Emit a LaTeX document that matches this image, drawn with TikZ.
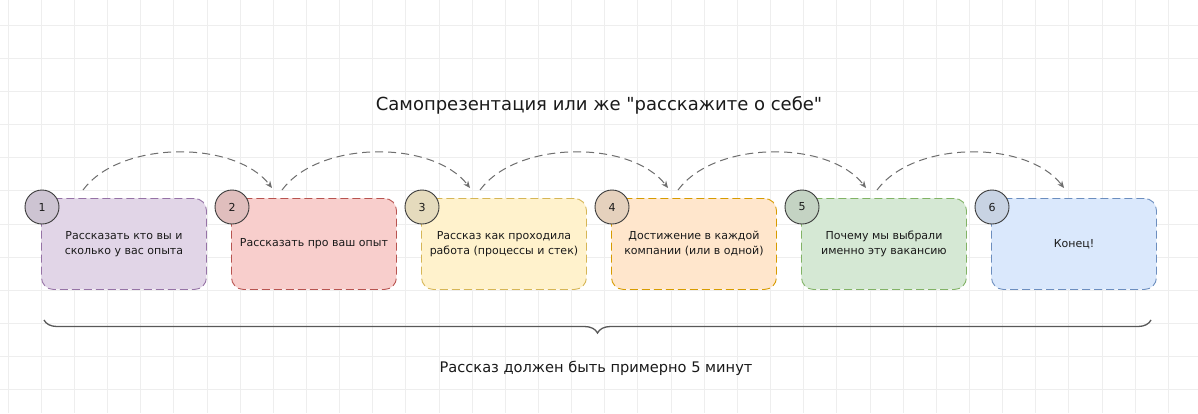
\documentclass[tikz,border=0pt]{standalone}
\usepackage{fontspec}
\setmainfont{DejaVu Sans}
\newfontfamily\qf{DejaVu Sans}
\usetikzlibrary{arrows.meta,decorations.pathreplacing}
\definecolor{gridc}{HTML}{EEEEEE}
\definecolor{arrowc}{HTML}{6E6E6E}
\definecolor{circstroke}{HTML}{3A3A3A}
\definecolor{txtc}{HTML}{1A1A1A}
\definecolor{f1}{HTML}{E1D5E7}\definecolor{s1}{HTML}{9673A6}
\definecolor{f2}{HTML}{F8CECC}\definecolor{s2}{HTML}{B85450}
\definecolor{f3}{HTML}{FFF2CC}\definecolor{s3}{HTML}{D6B656}
\definecolor{f4}{HTML}{FFE6CC}\definecolor{s4}{HTML}{D79B00}
\definecolor{f5}{HTML}{D5E8D4}\definecolor{s5}{HTML}{82B366}
\definecolor{f6}{HTML}{DAE8FC}\definecolor{s6}{HTML}{6C8EBF}
\tikzset{
  card/.style n args={2}{rectangle, rounded corners=12pt, draw=#1, fill=#2,
    line width=0.9pt, dash pattern=on 8pt off 4pt,
    minimum width=165pt, minimum height=91pt, anchor=north west,
    align=center, text=txtc, font=\fontsize{11}{15}\selectfont},
  numcirc/.style={circle, draw=circstroke, fill=#1!80!gray, line width=0.9pt,
    minimum size=34pt, inner sep=0pt, text=txtc, font=\fontsize{11}{13}\selectfont},
  hop/.style={draw=arrowc, line width=1pt, dash pattern=on 8pt off 5pt,
    -{Stealth[length=7pt,width=6pt]}},
  gridline/.style={draw=gridc, line width=0.8pt},
  bracestyle/.style={draw=arrowc!80!black, line width=1.3pt,
    decoration={brace, amplitude=13pt, aspect=0.5}, decorate},
}
\begin{document}
\begin{tikzpicture}[x=1pt,y=-1pt]
\useasboundingbox (0,0) rectangle (1198,413);
\fill[white] (0,0) rectangle (1198,413);
% grid
\foreach \k in {0,...,35} {\draw[gridline] (8+33.15*\k,0) -- (8+33.15*\k,413);}
\foreach \k in {0,...,11} {\draw[gridline] (0,25+33.15*\k) -- (1198,25+33.15*\k);}
% title
\node[text=txtc, font=\fontsize{18}{22}\selectfont] (title) at (599,105) {Самопрезентация или же {\qf"}расскажите о себе{\qf"}};
% boxes
\node[card={s1}{f1}] (b1) at (41,198) {Рассказать кто вы и\\сколько у вас опыта};
\node[card={s2}{f2}] (b2) at (231,198) {Рассказать про ваш опыт};
\node[card={s3}{f3}] (b3) at (421,198) {Рассказ как проходила\\работа (процессы и стек)};
\node[card={s4}{f4}] (b4) at (611,198) {Достижение в каждой\\компании (или в одной)};
\node[card={s5}{f5}] (b5) at (801,198) {Почему мы выбрали\\именно эту вакансию};
\node[card={s6}{f6}] (b6) at (991,198) {Конец!};
% circles
\node[numcirc=f1] (c1) at (b1.north west) [xshift=1pt,yshift=-9pt] {1};
\node[numcirc=f2] (c2) at (b2.north west) [xshift=1pt,yshift=-9pt] {2};
\node[numcirc=f3] (c3) at (b3.north west) [xshift=1pt,yshift=-9pt] {3};
\node[numcirc=f4] (c4) at (b4.north west) [xshift=1pt,yshift=-9pt] {4};
\node[numcirc=f5] (c5) at (b5.north west) [xshift=1pt,yshift=-9pt] {5};
\node[numcirc=f6] (c6) at (b6.north west) [xshift=1pt,yshift=-9pt] {6};
% arrow endpoints
\coordinate (s1) at (83,190);  \coordinate (t1) at (272,188);
\coordinate (s2) at (282,190); \coordinate (t2) at (470,188);
\coordinate (s3) at (480,190); \coordinate (t3) at (668,188);
\coordinate (s4) at (678,190); \coordinate (t4) at (866,188);
\coordinate (s5) at (877,190); \coordinate (t5) at (1064,188);
\foreach \i in {1,...,5} {
  \draw[hop] (s\i) .. controls ([shift={(37,-50)}]s\i) and ([shift={(-37,-48)}]t\i) .. (t\i);
}
% brace
\coordinate (br) at (1151,320);
\coordinate (bl) at (44,320);
\draw[bracestyle] (br) -- (bl);
\node[text=txtc, font=\fontsize{14.6}{17}\selectfont] (note) at (596,368) {Рассказ должен быть примерно 5 минут};
\end{tikzpicture}
\end{document}
